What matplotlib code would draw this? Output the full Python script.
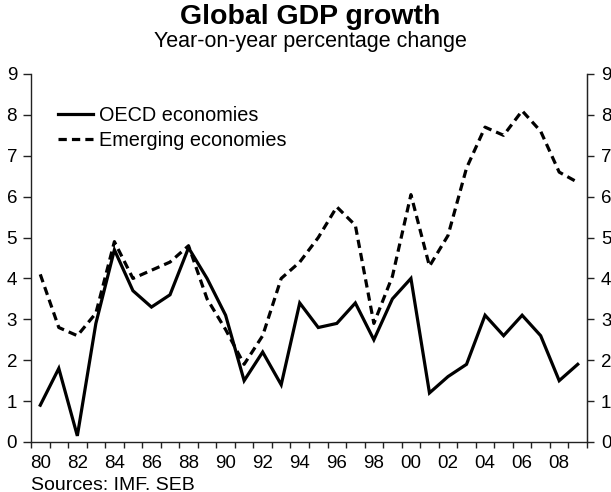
import matplotlib
matplotlib.use("Agg")
import matplotlib.pyplot as plt
import numpy as np

plt.rcParams['font.family'] = ['Liberation Sans', 'DejaVu Sans']

years = list(range(1980, 2010))
year_labels = ["80", "82", "84", "86", "88", "90", "92", "94", "96", "98",
               "00", "02", "04", "06", "08"]
oecd = [0.9, 1.8, 0.15, 2.9, 4.7, 3.7, 3.3, 3.6, 4.75, 4.0,
        3.1, 1.5, 2.2, 1.4, 3.4, 2.8, 2.9, 3.4, 2.5, 3.5,
        4.0, 1.2, 1.6, 1.9, 3.1, 2.6, 3.1, 2.6, 1.5, 1.9]
emerging = [4.1, 2.8, 2.6, 3.15, 4.9, 4.0, 4.2, 4.4, 4.8, 3.5,
            2.75, 1.9, 2.6, 4.0, 4.4, 5.0, 5.75, 5.3, 2.9, 4.05,
            6.05, 4.3, 5.05, 6.7, 7.7, 7.5, 8.1, 7.6, 6.6, 6.35]
yticks = list(range(0, 10))

fig = plt.figure(figsize=(6.11, 4.92), dpi=100)
ax = fig.add_axes([31/611, 1-442/492, (587-31)/611, (442-74)/492])

x = np.arange(len(years))
ax.plot(x, oecd, color='black', lw=2.3, solid_joinstyle='miter', label='OECD economies')
ax.plot(x, emerging, color='black', lw=2.3, ls=(0, (2.6, 1.6)), label='Emerging economies')

ax.set_xlim(-0.5, len(years) - 0.5)
ax.set_ylim(0, 9)
ax.set_yticks(yticks)
ax.set_yticklabels([str(v) for v in yticks], fontsize=13.5)
ax.set_xticks(x[::2])
ax.set_xticklabels(year_labels, fontsize=13.5)
ax.set_xticks(np.arange(-0.5, len(years), 1), minor=True)
ax.tick_params(axis='x', which='major', length=0, pad=9)
ax.tick_params(axis='x', which='minor', length=4, width=1, color='#222222', direction='out')
ax.tick_params(axis='y', length=6, width=1, color='#222222', direction='out', pad=4)

for s in ['top']:
    ax.spines[s].set_visible(False)
for s in ['left', 'bottom', 'right']:
    ax.spines[s].set_color('#222222')
    ax.spines[s].set_linewidth(1)

ax2 = ax.twinx()
ax2.set_ylim(0, 9)
ax2.set_yticks(yticks)
ax2.set_yticklabels([str(v) for v in yticks], fontsize=13.5)
ax2.tick_params(axis='y', length=5, width=1, color='#222222', direction='out', pad=5)
for s in ['top', 'left', 'bottom']:
    ax2.spines[s].set_visible(False)
ax2.spines['right'].set_color('#222222')

leg = ax.legend(loc='upper left', bbox_to_anchor=(0.035, 0.935), frameon=False,
                fontsize=14.3, handlelength=1.75, handletextpad=0.3,
                labelspacing=0.3, borderaxespad=0)

fig.text(0.508, 1-17/492, "Global GDP growth", ha='center', va='center',
         fontsize=20.5, fontweight='bold')
fig.text(0.508, 1-42/492, "Year-on-year percentage change", ha='center', va='center',
         fontsize=15.5)
fig.text(31/611, 1-485/492, "Sources: IMF. SEB", ha='left', va='center', fontsize=14)

fig.savefig("out.png", dpi=100)
